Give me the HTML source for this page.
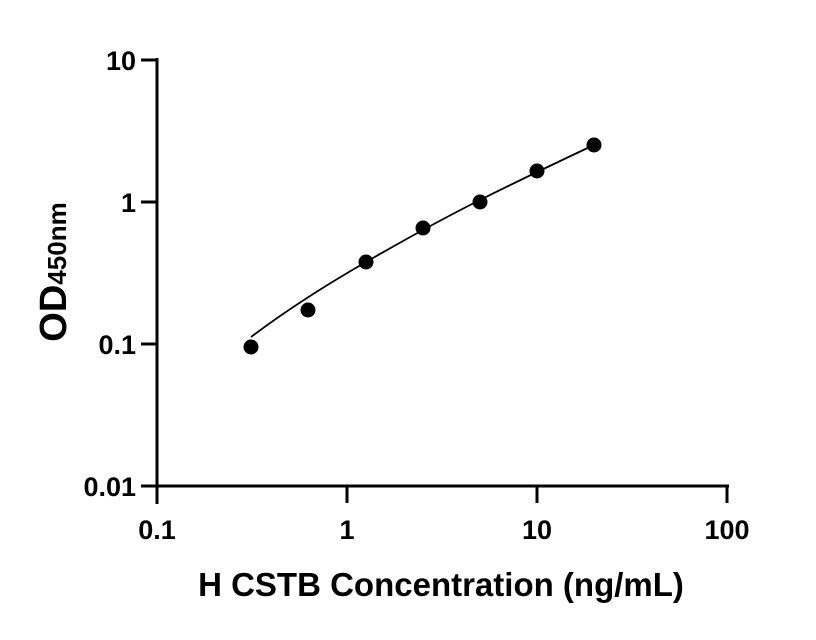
<!DOCTYPE html>
<html><head><meta charset="utf-8"><style>body{margin:0;background:#fff}svg{display:block}text{font-family:"Liberation Sans",sans-serif;font-weight:bold;fill:#000}</style></head><body>
<svg width="816" height="640" viewBox="0 0 816 640">
<g stroke="#000" stroke-width="3" fill="none">
<line x1="157" y1="58" x2="157" y2="504"/>
<line x1="141" y1="486" x2="729" y2="486"/>
<line x1="141" y1="60" x2="157" y2="60"/>
<line x1="141" y1="202" x2="157" y2="202"/>
<line x1="141" y1="344" x2="157" y2="344"/>
<line x1="347" y1="486" x2="347" y2="503"/>
<line x1="537" y1="486" x2="537" y2="503"/>
<line x1="727" y1="486" x2="727" y2="503"/>
</g>
<path d="M251,337 Q300,300 366,262 T480,200 T594,145" stroke="#000" stroke-width="1.8" fill="none"/>
<g fill="#000">
<circle cx="251" cy="347" r="7.5"/><circle cx="308" cy="310" r="7.5"/><circle cx="366" cy="262" r="7.5"/><circle cx="423" cy="228" r="7.5"/><circle cx="480" cy="202" r="7.5"/><circle cx="537" cy="171" r="7.5"/><circle cx="594" cy="145" r="7.5"/>
</g>
<g font-size="27" text-anchor="end">
<text x="136" y="70">10</text><text x="136" y="212">1</text><text x="136" y="354">0.1</text><text x="136" y="496">0.01</text>
</g>
<g font-size="27" text-anchor="middle">
<text x="157" y="539">0.1</text><text x="347" y="539">1</text><text x="537" y="539">10</text><text x="727" y="539">100</text>
</g>
<text x="441" y="596" font-size="33" text-anchor="middle">H CSTB Concentration (ng/mL)</text>
<text transform="translate(66,272) rotate(-90)" font-size="38" text-anchor="middle">OD<tspan font-size="26">450nm</tspan></text>
</svg></body></html>
